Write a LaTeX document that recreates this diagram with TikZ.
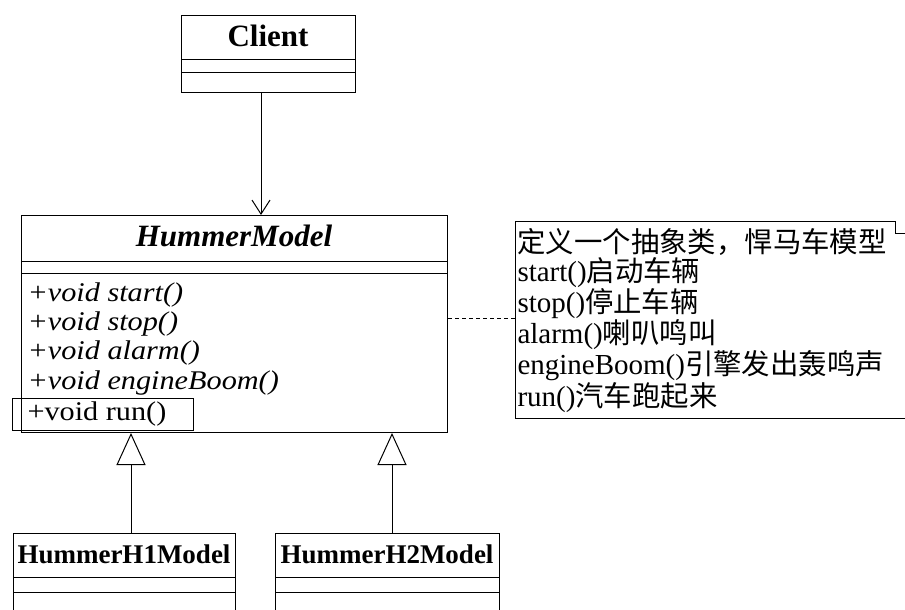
\documentclass[tikz,border=0pt]{standalone}
\usepackage{fontspec}
\setmainfont{Liberation Serif}
\newfontfamily\clsfont{Liberation Serif}[FakeStretch=1.12]
\newfontfamily\cjk{Noto Sans CJK SC}
\newcommand\zh[1]{{\cjk\fontsize{28.4}{28.6}\selectfont #1}}
\usetikzlibrary{arrows.meta}
\begin{document}
\begin{tikzpicture}[x=1pt,y=-1pt,
  line width=1pt,
  classbox/.style={draw, inner sep=0pt, anchor=north west},
  meth/.style={anchor=base west, inner sep=0pt, font=\clsfont\fontsize{27}{29}\selectfont\itshape},
  inherit/.style={-{Triangle[open,length=32pt,width=29pt]}},
  assoc/.style={-{Straight Barb[length=14pt,width=18pt]}},
  notelink/.style={dash pattern=on 4pt off 3pt},
]
\useasboundingbox (0,0) rectangle (905,610);

% Client
\node[classbox, minimum width=174pt, minimum height=77pt] (client) at (181,15) {};
\node[anchor=base, inner sep=0pt, font=\fontsize{31}{34}\selectfont\bfseries] (clientname) at (268,47) {Client};
\draw (181,60) -- (355,60);
\draw (181,73) -- (355,73);

% HummerModel
\node[classbox, minimum width=426pt, minimum height=217pt] (hm) at (21,215) {};
\node[anchor=base, inner sep=0pt, font=\fontsize{31}{34}\selectfont\bfseries\itshape] (hmname) at (234,246) {HummerModel};
\draw (21,261) -- (447,261);
\draw (21,273) -- (447,273);
\node[meth] (m1) at (27,301) {+void start()};
\node[meth] (m2) at (27,330) {+void stop()};
\node[meth] (m3) at (27,359) {+void alarm()};
\node[meth] (m4) at (27,389) {+void engineBoom()};
\node[draw, anchor=north west, inner sep=0pt, minimum width=181pt, minimum height=32pt] (runbox) at (12,398) {};
\node[anchor=base west, inner sep=0pt, font=\clsfont\fontsize{27}{29}\selectfont] (m5) at (27,420) {+void run()};

% Note
\node[anchor=north west, inner sep=0pt, minimum width=390pt, minimum height=197pt] (note) at (515,221) {};
\draw (905,418) -- (515,418) -- (515,221) -- (895,221) -- (895,233) -- (905,233);
\node[anchor=north west, inner sep=0pt, align=left, font=\fontsize{29}{28.6}\selectfont] (notetext) at (517,228)
{\zh{定义一个抽象类，悍马车模型}\\
start()\zh{启动车辆}\\
stop()\zh{停止车辆}\\
alarm()\zh{喇叭鸣叫}\\
engineBoom()\zh{引擎发出轰鸣声}\\
run()\zh{汽车跑起来}};
\draw[notelink] (hm.east |- 0,318) -- (note.west |- 0,318);

% Subclasses
\node[classbox, minimum width=222pt, minimum height=78pt] (h1) at (13,533) {};
\node[anchor=base, inner sep=0pt, font=\fontsize{27}{30}\selectfont\bfseries] (h1name) at (124,563) {HummerH1Model};
\draw (13,577) -- (235,577);
\draw (13,592) -- (235,592);

\node[classbox, minimum width=224pt, minimum height=78pt] (h2) at (275,533) {};
\node[anchor=base, inner sep=0pt, font=\fontsize{27}{30}\selectfont\bfseries] (h2name) at (387,563) {HummerH2Model};
\draw (275,577) -- (499,577);
\draw (275,592) -- (499,592);

% Connectors
\draw[assoc] (client.south -| 261,0) -- (hm.north -| 261,0);
\draw[inherit] (h1.north -| 131,0) -- (hm.south -| 131,0);
\draw[inherit] (h2.north -| 392,0) -- (hm.south -| 392,0);
\end{tikzpicture}
\end{document}
